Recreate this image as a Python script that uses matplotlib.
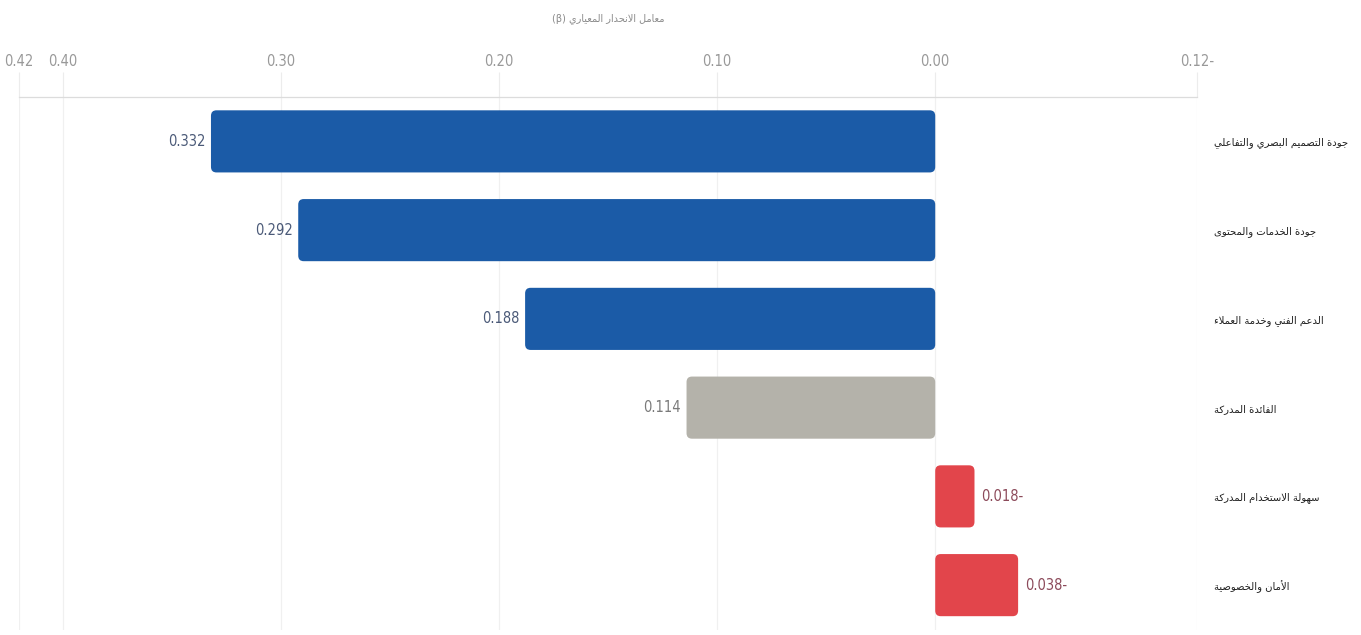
import matplotlib
matplotlib.use("Agg")
import matplotlib.pyplot as plt
from matplotlib.patches import FancyBboxPatch

# ---------------- data ----------------
categories = [
    "جودة التصميم البصري والتفاعلي",
    "جودة الخدمات والمحتوى",
    "الدعم الفني وخدمة العملاء",
    "الفائدة المدركة",
    "سهولة الاستخدام المدركة",
    "الأمان والخصوصية",
]
beta_values = [0.332, 0.292, 0.188, 0.114, -0.018, -0.038]
bar_colors = ["#1b5ba7", "#1b5ba7", "#1b5ba7", "#b4b2aa", "#e2454b", "#e2454b"]
label_colors = ["#4b5a78", "#4b5a78", "#4b5a78", "#7a7a7a", "#8c4a5a", "#8c4a5a"]
tick_values = [0.42, 0.40, 0.30, 0.20, 0.10, 0.00, -0.12]
tick_labels = ["0.42", "0.40", "0.30", "0.20", "0.10", "0.00", "0.12-"]
axis_title_ar = "معامل الانحدار المعياري"
axis_title_sym = "(β)"

# ------------- minimal Arabic shaping (matplotlib has no text shaping) -------------
FOUR = {  # dual-joining: isolated base; final +1, initial +2, medial +3
    'ئ': 0xFE89, 'ب': 0xFE8F, 'ت': 0xFE95, 'ث': 0xFE99, 'ج': 0xFE9D, 'ح': 0xFEA1,
    'خ': 0xFEA5, 'س': 0xFEB1, 'ش': 0xFEB5, 'ص': 0xFEB9, 'ض': 0xFEBD, 'ط': 0xFEC1,
    'ظ': 0xFEC5, 'ع': 0xFEC9, 'غ': 0xFECD, 'ف': 0xFED1, 'ق': 0xFED5, 'ك': 0xFED9,
    'ل': 0xFEDD, 'م': 0xFEE1, 'ن': 0xFEE5, 'ه': 0xFEE9, 'ي': 0xFEF1,
}
TWO = {  # right-joining: isolated base; final +1
    'آ': 0xFE81, 'أ': 0xFE83, 'ؤ': 0xFE85, 'إ': 0xFE87, 'ا': 0xFE8D, 'ة': 0xFE93,
    'د': 0xFEA9, 'ذ': 0xFEAB, 'ر': 0xFEAD, 'ز': 0xFEAF, 'و': 0xFEED, 'ى': 0xFEEF,
}
NONJOIN = {'ء': 0xFE80}
LAMALEF = {'آ': 0xFEF5, 'أ': 0xFEF7, 'إ': 0xFEF9, 'ا': 0xFEFB}


def shape_arabic(text):
    tokens = []
    i = 0
    while i < len(text):
        c = text[i]
        if c == 'ل' and i + 1 < len(text) and text[i + 1] in LAMALEF:
            tokens.append(('LA', text[i + 1]))
            i += 2
        else:
            tokens.append(('C', c))
            i += 1

    def joins_left(tok):
        return tok[0] == 'C' and tok[1] in FOUR

    def joins_right(tok):
        return tok[0] == 'LA' or tok[1] in FOUR or tok[1] in TWO

    out = []
    for k, tok in enumerate(tokens):
        prev_j = k > 0 and joins_left(tokens[k - 1]) and joins_right(tok)
        next_j = (k + 1 < len(tokens) and joins_left(tok) and joins_right(tokens[k + 1]))
        if tok[0] == 'LA':
            out.append(chr(LAMALEF[tok[1]] + (1 if prev_j else 0)))
            continue
        c = tok[1]
        if c in FOUR:
            b = FOUR[c]
            if prev_j and next_j:
                out.append(chr(b + 3))
            elif prev_j:
                out.append(chr(b + 1))
            elif next_j:
                out.append(chr(b + 2))
            else:
                out.append(chr(b))
        elif c in TWO:
            b = TWO[c]
            out.append(chr(b + 1) if prev_j else chr(b))
        elif c in NONJOIN:
            out.append(chr(NONJOIN[c]))
        else:
            out.append(c)
    return "".join(reversed(out))


# ---------------- plot ----------------
plt.rcParams['font.family'] = ['DejaVu Sans']

fig = plt.figure(figsize=(13.61, 6.35), dpi=100)
ax = fig.add_axes([19 / 1361, 1 - 629.5 / 635, (1197 - 19) / 1361, (629.5 - 97) / 635])

y = list(range(len(categories)))
bars = ax.barh(y, beta_values, height=0.70, color=bar_colors, zorder=3)

# rounded ends: redraw each bar as a rounded box with the same geometry
for b, col in zip(bars, bar_colors):
    x0, y0, w, h = b.get_x(), b.get_y(), b.get_width(), b.get_height()
    b.set_visible(False)
    patch = FancyBboxPatch((min(x0, x0 + w), y0), abs(w), h,
                           boxstyle="round,pad=0,rounding_size=0.0025",
                           mutation_aspect=25,
                           facecolor=col, edgecolor='none', zorder=3)
    ax.add_patch(patch)

ax.set_xlim(0.42, -0.12)
ax.set_ylim(len(categories) - 0.5, -0.5)

# value labels
for yi, v, lc in zip(y, beta_values, label_colors):
    txt = f"{abs(v):.3f}-" if v < 0 else f"{v:.3f}"
    if v >= 0:
        ax.annotate(txt, (v, yi), xytext=(-4, 0), textcoords='offset points',
                    ha='right', va='center', fontsize=10.5, fontstretch='condensed',
                    color=lc)
    else:
        ax.annotate(txt, (v, yi), xytext=(5, 0), textcoords='offset points',
                    ha='left', va='center', fontsize=10.5, fontstretch='condensed',
                    color=lc)

# x axis on top
ax.xaxis.tick_top()
ax.set_xticks(tick_values)
ax.set_xticklabels(tick_labels, fontstretch='condensed')
ax.tick_params(axis='x', length=18, width=0.8, color='#ececec', pad=2.5,
               labelsize=10.5, labelcolor='#999999')
ax.grid(axis='x', color='#f0f0f0', linewidth=0.9, zorder=0)

# y axis labels on right
ax.yaxis.tick_right()
ax.set_yticks(y)
ax.set_yticklabels([shape_arabic(c) for c in categories],
                   fontsize=7.2, color='#1e1e1e', ha='left')
ax.tick_params(axis='y', length=0, pad=12)

for s in ['left', 'bottom', 'right']:
    ax.spines[s].set_visible(False)
ax.spines['top'].set_color('#dcdcdc')
ax.spines['top'].set_linewidth(0.9)

ax.xaxis.set_label_position('top')
ax.set_xlabel(axis_title_sym + " " + shape_arabic(axis_title_ar),
              fontsize=7, color='#8a8a8a', labelpad=23.5)

fig.savefig("out.png", dpi=100, facecolor='white')
